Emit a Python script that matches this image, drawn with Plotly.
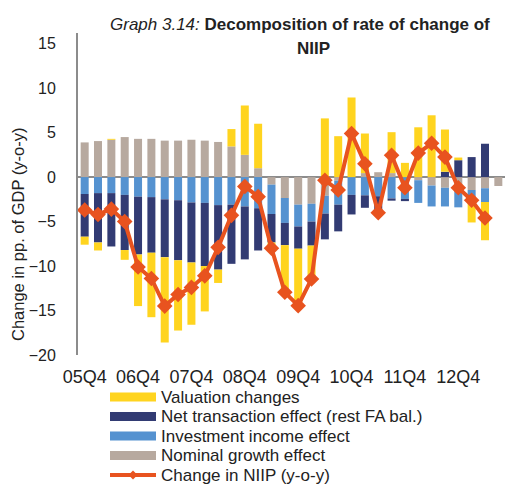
import plotly.graph_objects as go

quarters = [f"{y:02d}Q{q}" for y, q in
            [(5, 4)] + [(yy, qq) for yy in range(6, 13) for qq in (1, 2, 3, 4)] + [(13, 1), (13, 2), (13, 3)]]

nominal_growth = [3.9, 4.05, 4.2, 4.5, 4.3, 4.3, 4.1, 4.1, 4.2, 4.1, 3.95, 3.45, 2.5, 1.0,
                  -0.85, -2.35, -3.1, -3.0, -2.1, -0.4, 0.0, 0.45, 0.55, 0.45, 0.0, -0.35,
                  -0.95, -1.2, -1.1, -1.45, -1.25, -1.0]
investment_income = [-1.9, -1.8, -1.8, -2.0, -2.2, -2.25, -2.5, -2.6, -2.85, -2.9, -3.15, -3.1,
                     -3.3, -3.5, -3.3, -2.8, -2.45, -2.0, -2.0, -2.7, -2.0, -2.05, -2.15, -2.4,
                     -2.45, -2.55, -2.35, -2.1, -2.3, -1.4, -1.55, 0.0]
net_transaction = [-4.8, -5.55, -6.0, -6.2, -6.5, -6.25, -6.5, -6.75, -6.75, -7.1, -7.25, -6.65,
                   -5.95, -4.75, -3.2, -2.5, -2.5, -2.7, -2.9, -3.0, -2.2, -1.4, -1.9, -0.25,
                   -0.25, 0.0, 0.0, 0.6, 1.9, 2.25, 3.75, 0.0]
valuation = [-0.9, -0.9, 0.1, -1.1, -5.8, -7.25, -9.6, -7.9, -7.0, -5.1, -1.5, 1.95, 5.55, 5.0,
             -0.3, -5.2, -6.0, -3.6, 6.6, 4.6, 8.95, 4.45, 0.0, 4.6, 1.6, 5.6, 6.95, 4.75,
             0.3, -2.25, -4.3, 0.0]
change_niip = [-3.7, -4.2, -3.6, -5.0, -10.1, -11.4, -14.5, -13.2, -12.4, -11.1, -7.9, -4.3,
               -1.05, -2.2, -8.0, -12.95, -14.45, -11.45, -0.35, -1.45, 4.9, 1.5, -4.0, 2.45,
               -1.2, 2.7, 3.8, 2.25, -1.2, -2.6, -4.6, None]

tick_labels = quarters[::4]
y_ticks = [15, 10, 5, 0, -5, -10, -15, -20]

legend_names = ["Valuation changes", "Net transaction effect (rest FA bal.)",
                "Investment income effect", "Nominal growth effect", "Change in NIIP (y-o-y)"]

C_VAL = "#FFD41F"
C_NET = "#323B73"
C_INV = "#5592D0"
C_NOM = "#B7A99F"
C_LINE = "#E8531F"
FONT = "Liberation Sans, Arial, sans-serif"
TXT = "#222222"

W, H = 515, 486
L, R, T, B = 78, 10, 33, 131
PW, PH = W - L - R, H - T - B


def px(xp):
    return (xp - L) / PW


def py(yp):
    return (H - B - yp) / PH


fig = go.Figure()
bar_series = [(legend_names[3], nominal_growth, C_NOM),
              (legend_names[2], investment_income, C_INV),
              (legend_names[1], net_transaction, C_NET),
              (legend_names[0], valuation, C_VAL)]
for name, vals, col in bar_series:
    fig.add_trace(go.Bar(x=quarters, y=vals, name=name, marker_color=col,
                         marker_line_width=0, showlegend=False))

fig.add_trace(go.Scatter(x=quarters, y=change_niip, mode="lines+markers",
                         line=dict(color=C_LINE, width=4),
                         marker=dict(symbol="diamond", size=12, color=C_LINE),
                         name=legend_names[4], showlegend=False))

# manual legend (wide swatches as in the original)
shapes = []
annotations = []
row_y = [397, 416.5, 436, 455.5, 475]
sw_x0, sw_x1, txt_x = 110, 156, 160
swatch_cols = [C_VAL, C_NET, C_INV, C_NOM]
for i, name in enumerate(legend_names):
    yc = row_y[i]
    if i < 4:
        shapes.append(dict(type="rect", xref="paper", yref="paper",
                           x0=px(sw_x0), x1=px(sw_x1), y0=py(yc + 4.5), y1=py(yc - 4.5),
                           fillcolor=swatch_cols[i], line=dict(width=0)))
    else:
        shapes.append(dict(type="line", xref="paper", yref="paper",
                           x0=px(sw_x0), x1=px(sw_x1), y0=py(yc), y1=py(yc),
                           line=dict(color=C_LINE, width=4)))
        cx = (sw_x0 + sw_x1) / 2
        d = 4.5
        path = (f"M {px(cx - d)},{py(yc)} L {px(cx)},{py(yc - d)} "
                f"L {px(cx + d)},{py(yc)} L {px(cx)},{py(yc + d)} Z")
        shapes.append(dict(type="path", xref="paper", yref="paper", path=path,
                           fillcolor=C_LINE, line=dict(width=0)))
    annotations.append(dict(text=name, xref="paper", yref="paper", x=px(txt_x), y=py(yc),
                            xanchor="left", yanchor="middle", showarrow=False, borderpad=0,
                            font=dict(size=17, color=TXT)))

annotations += [
    dict(text="Change in pp. of GDP (y-o-y)", textangle=-90, xref="paper", yref="paper",
         x=px(18), y=py(235), showarrow=False, font=dict(size=16.5, color=TXT),
         xanchor="center", yanchor="middle"),
    dict(text="<i>Graph 3.14:</i> <b>Decomposition of rate of change of</b>",
         xref="paper", yref="paper", x=px(300), y=py(25), xanchor="center", yanchor="middle",
         showarrow=False, font=dict(size=17, color=TXT)),
    dict(text="<b>NIIP</b>", xref="paper", yref="paper", x=px(313), y=py(48),
         xanchor="center", yanchor="middle", showarrow=False, font=dict(size=17, color=TXT)),
]

fig.update_layout(
    width=W, height=H,
    margin=dict(l=L, r=R, t=T, b=B, autoexpand=False),
    barmode="relative", bargap=0.4,
    paper_bgcolor="white", plot_bgcolor="white",
    font=dict(family=FONT, size=16, color=TXT),
    showlegend=False,
    hovermode=False,
    xaxis=dict(type="category", tickmode="array", tickvals=tick_labels, ticktext=tick_labels,
               showline=False, showgrid=False, ticks="", ticklabelstandoff=9,
               tickfont=dict(size=18, color=TXT), range=[-0.5, 31.5], automargin=False),
    yaxis=dict(range=[-20, 16.2], tickvals=y_ticks, showgrid=False,
               showline=True, linecolor="#8c8c8c", linewidth=2,
               zeroline=True, zerolinecolor="#8c8c8c", zerolinewidth=2,
               ticks="", ticklabelstandoff=17, tickfont=dict(size=16, color=TXT),
               automargin=False),
    shapes=shapes,
    annotations=annotations,
)

fig.write_html("out.html", config={"displayModeBar": False, "staticPlot": True},
               post_script="document.body.style.margin='0px';document.body.style.overflow='hidden';")
